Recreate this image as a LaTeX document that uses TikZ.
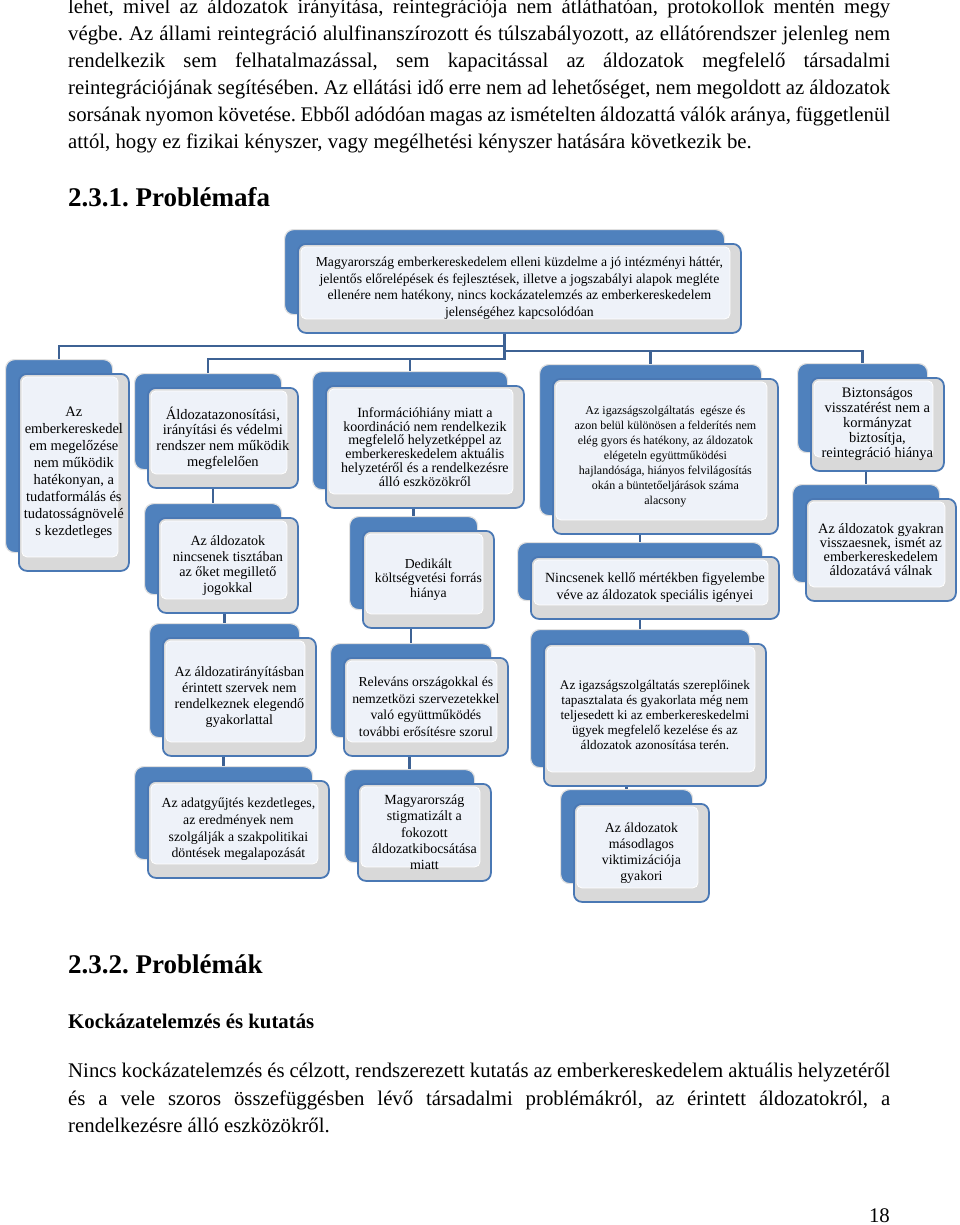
\documentclass[tikz,border=0pt]{standalone}
\usepackage{fontspec}
\setmainfont{Liberation Serif}
\frenchspacing
\definecolor{tabblue}{HTML}{4F81BD}
\definecolor{edgeblue}{HTML}{4A78B4}
\definecolor{connblue}{HTML}{3E6294}
\definecolor{boxgray}{HTML}{D9D9D9}
\definecolor{panel}{HTML}{EEF2F9}
\newcommand\bodyfont{\fontsize{20.8}{27}\selectfont}
\newcommand\pbx[8]{%
  \node[tabbox, minimum width={(#4-3)*1pt}, minimum height={(#5-4)*1pt}, anchor=north west] (#1t) at ({#2-13},{#3-14}) {};
  \node[frontbox, minimum width={#4*1pt}, minimum height={#5*1pt}, anchor=north west, font=\fontsize{#6}{#7}\selectfont] (#1) at (#2,#3) {#8};
}
\begin{document}
\begin{tikzpicture}[x=1pt,y=-1pt,
  tabbox/.style={fill=tabblue, draw=black!12, line width=1.2pt, rounded corners=9pt, inner sep=0pt},
  frontbox/.style={fill=boxgray, draw=edgeblue, line width=1.8pt, rounded corners=8pt, inner sep=1pt, align=center,
    path picture={\filldraw[fill=panel, draw=white, line width=0.8pt, rounded corners=5pt] ([shift={(3pt,-3pt)}]path picture bounding box.north west) rectangle ([shift={(-11pt,14pt)}]path picture bounding box.south east);}},
  conn/.style={draw=connblue, line width=2.6pt},
  body/.style={inner sep=0pt, anchor=base west, font=\bodyfont},
  head/.style={inner sep=0pt, anchor=base west, font=\fontsize{27}{30}\selectfont\bfseries},
]
\fill[white] (0,0) rectangle (960,1225);
\useasboundingbox (0,0) rectangle (960,1225);

% body text top
\node[body] (l1) at (68,14) {\makebox[822pt][s]{lehet, mivel az áldozatok irányítása, reintegrációja nem átláthatóan, protokollok mentén megy}};
\node[body] (l2) at (68,41) {\makebox[822pt][s]{végbe. Az állami reintegráció alulfinanszírozott és túlszabályozott, az ellátórendszer jelenleg nem}};
\node[body] (l3) at (68,68) {\makebox[822pt][s]{rendelkezik sem felhatalmazással, sem kapacitással az áldozatok megfelelő társadalmi}};
\node[body] (l4) at (68,95) {\makebox[822pt][s]{reintegrációjának segítésében. Az ellátási idő erre nem ad lehetőséget, nem megoldott az áldozatok}};
\node[body] (l5) at (68,122) {\makebox[822pt][s]{sorsának nyomon követése. Ebből adódóan magas az ismételten áldozattá válók aránya, függetlenül}};
\node[body] (l6) at (68,149) {attól, hogy ez fizikai kényszer, vagy megélhetési kényszer hatására következik be.};

\node[head] (h1) at (68,207) {2.3.1. Problémafa};

% boxes
\pbx{top}{297}{243}{443}{89}{13.7}{16.5}{Magyarország emberkereskedelem elleni küzdelme a jó intézményi háttér,\\ jelentős előrelépések és fejlesztések, illetve a jogszabályi alapok megléte\\ ellenére nem hatékony, nincs kockázatelemzés az emberkereskedelem\\ jelenségéhez kapcsolódóan}

\pbx{n1}{18}{373}{110}{197}{14.5}{17}{Az\\ emberkereskedel\\ em megelőzése\\ nem működik\\ hatékonyan, a\\ tudatformálás és\\ tudatosságnövelé\\ s kezdetleges}

\pbx{n2}{147}{387}{150}{100}{14.5}{15.7}{Áldozatazonosítási,\\ irányítási és védelmi\\ rendszer nem működik\\ megfelelően}
\pbx{n2b}{157}{517}{140}{95}{14.1}{15.5}{Az áldozatok\\ nincsenek tisztában\\ az őket megillető\\ jogokkal}
\pbx{n2c}{162}{637}{153}{118}{14.1}{16}{Az áldozatirányításban\\ érintett szervek nem\\ rendelkeznek elegendő\\ gyakorlattal}
\pbx{n2d}{147}{780}{181}{97}{13.8}{16.7}{Az adatgyűjtés kezdetleges,\\ az eredmények nem\\ szolgálják a szakpolitikai\\ döntések megalapozását}

\pbx{n3}{325}{385}{198}{122}{14}{13.8}{Információhiány miatt a\\ koordináció nem rendelkezik\\ megfelelő helyzetképpel az\\ emberkereskedelem aktuális\\ helyzetéről és a rendelkezésre\\ álló eszközökről}
\pbx{n3b}{362}{530}{131}{97}{13.7}{14.5}{Dedikált\\ költségvetési forrás\\ hiánya}
\pbx{n3c}{343}{657}{164}{98}{13.7}{16.7}{Releváns országokkal és\\ nemzetközi szervezetekkel\\ való együttműködés\\ további erősítésre szorul}
\pbx{n3d}{357}{783}{133}{97}{14}{16.3}{Magyarország\\ stigmatizált a\\ fokozott\\ áldozatkibocsátása\\ miatt}

\pbx{n4}{552}{378}{225}{155}{12}{15}{Az igazságszolgáltatás \ egésze és\\ azon belül különösen a felderítés nem\\ elég gyors és hatékony, az áldozatok\\ elégeteln együttműködési\\ hajlandósága, hiányos felvilágosítás\\ okán a büntetőeljárások száma\\ alacsony}
\pbx{n4b}{530}{556}{248}{62}{14}{16.7}{Nincsenek kellő mértékben figyelembe\\ véve az áldozatok speciális igényei}
\pbx{n4c}{543}{643}{222}{142}{13.2}{15}{Az igazságszolgáltatás szereplőinek\\ tapasztalata és gyakorlata még nem\\ teljesedett ki az emberkereskedelmi\\ ügyek megfelelő kezelése és az\\ áldozatok azonosítása terén.}
\pbx{n4d}{573}{803}{135}{98}{13.8}{16}{Az áldozatok\\ másodlagos\\ viktimizációja\\ gyakori}

\pbx{n5}{810}{377}{133}{93}{14.5}{15}{Biztonságos\\ visszatérést nem a\\ kormányzat\\ biztosítja,\\ reintegráció hiánya}
\pbx{n5b}{805}{498}{150}{102}{14.3}{14}{Az áldozatok gyakran\\ visszaesnek, ismét az\\ emberkereskedelem\\ áldozatává válnak}

% connectors
\draw[conn] (topt.center |- top.south) -- ++(0,12) -| (n1t.north);
\draw[conn] (topt.center |- top.south) -- ++(0,25) -| (n2t.north);
\draw[conn] (topt.center |- top.south) -- ++(0,25) -| (n3t.north);
\draw[conn] (topt.center |- top.south) -- ++(0,17) -| (n4t.north);
\draw[conn] (topt.center |- top.south) -- ++(0,17) -| (n5t.north);
\draw[conn] (n2bt.north |- n2.south) -- (n2bt.north);
\draw[conn] (n2ct.north |- n2b.south) -- (n2ct.north);
\draw[conn] (n2dt.north |- n2c.south) -- (n2dt.north);
\draw[conn] (n3bt.north |- n3.south) -- (n3bt.north);
\draw[conn] (n3ct.north |- n3b.south) -- (n3ct.north);
\draw[conn] (n3dt.north |- n3c.south) -- (n3dt.north);
\draw[conn] (n4bt.north |- n4.south) -- (n4bt.north);
\draw[conn] (n4ct.north |- n4b.south) -- (n4ct.north);
\draw[conn] (n4dt.north |- n4c.south) -- (n4dt.north);
\draw[conn] (n5bt.north |- n5.south) -- (n5bt.north);

% bottom text
\node[head] (h2) at (68,973) {2.3.2. Problémák};
\node[inner sep=0pt, anchor=base west, font=\bodyfont\bfseries] (h3) at (68,1028) {Kockázatelemzés és kutatás};
\node[body] (p1) at (68,1077) {\makebox[822pt][s]{Nincs kockázatelemzés és célzott, rendszerezett kutatás az emberkereskedelem aktuális helyzetéről}};
\node[body] (p2) at (68,1105) {\makebox[822pt][s]{és a vele szoros összefüggésben lévő társadalmi problémákról, az érintett áldozatokról, a}};
\node[body] (p3) at (68,1132) {rendelkezésre álló eszközökről.};
\node[inner sep=0pt, anchor=base east, font=\bodyfont] (pg) at (890,1222) {18};
\end{tikzpicture}
\end{document}
